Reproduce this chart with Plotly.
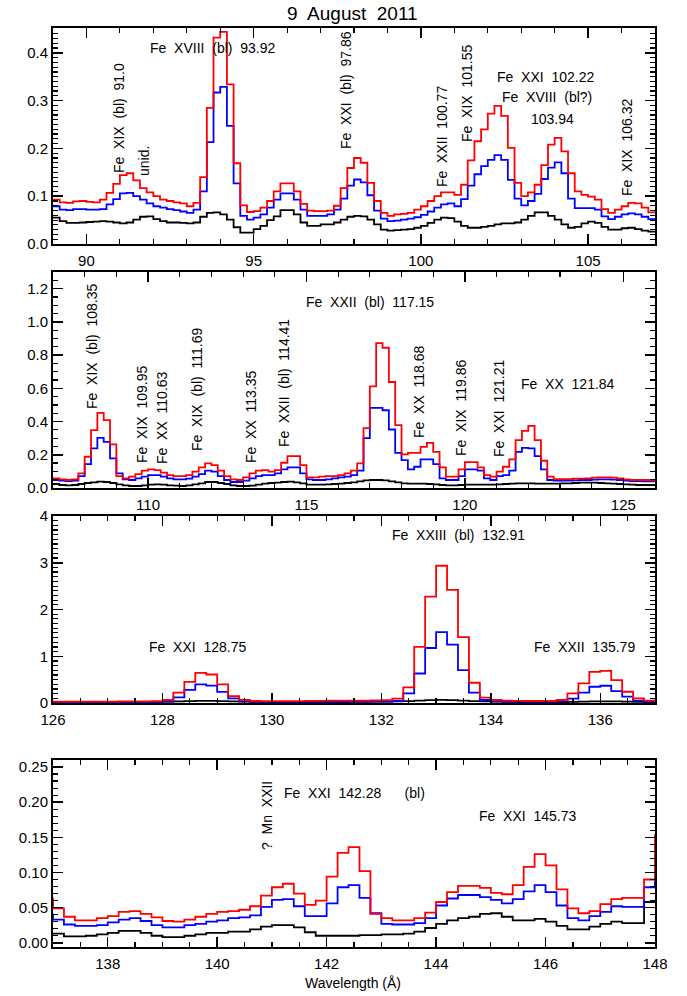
import plotly.graph_objects as go

# ---------------- data (bin width 0.2 A) ----------------
STEP = 0.2

start1 = 89.1
red1 = [0.093, 0.087, 0.086, 0.089, 0.090, 0.088, 0.087, 0.093, 0.107, 0.126,
        0.144, 0.148, 0.133, 0.117, 0.108, 0.100, 0.093, 0.090, 0.087, 0.085,
        0.079, 0.086, 0.140, 0.285, 0.432, 0.444, 0.334, 0.169, 0.081, 0.067,
        0.069, 0.076, 0.090, 0.110, 0.127, 0.127, 0.110, 0.084, 0.070, 0.069,
        0.069, 0.070, 0.080, 0.117, 0.159, 0.180, 0.170, 0.128, 0.090, 0.065,
        0.059, 0.062, 0.063, 0.065, 0.072, 0.079, 0.090, 0.100, 0.108, 0.108,
        0.103, 0.124, 0.175, 0.215, 0.240, 0.273, 0.289, 0.268, 0.201, 0.128,
        0.100, 0.108, 0.124, 0.165, 0.208, 0.222, 0.194, 0.148, 0.110, 0.103,
        0.099, 0.093, 0.073, 0.065, 0.072, 0.079, 0.086, 0.085, 0.076, 0.066]
blue1 = [0.079, 0.072, 0.071, 0.073, 0.073, 0.072, 0.072, 0.073, 0.083, 0.094,
         0.106, 0.107, 0.100, 0.093, 0.085, 0.079, 0.076, 0.073, 0.071, 0.068,
         0.065, 0.072, 0.110, 0.213, 0.317, 0.329, 0.247, 0.127, 0.059, 0.051,
         0.055, 0.062, 0.076, 0.093, 0.106, 0.106, 0.093, 0.072, 0.059, 0.059,
         0.059, 0.062, 0.072, 0.095, 0.122, 0.135, 0.129, 0.102, 0.070, 0.053,
         0.048, 0.049, 0.051, 0.053, 0.056, 0.061, 0.068, 0.076, 0.083, 0.085,
         0.079, 0.094, 0.122, 0.146, 0.163, 0.176, 0.186, 0.176, 0.134, 0.095,
         0.081, 0.090, 0.105, 0.136, 0.160, 0.171, 0.148, 0.095, 0.075, 0.075,
         0.075, 0.072, 0.058, 0.052, 0.057, 0.062, 0.064, 0.062, 0.057, 0.052]
black1 = [0.055, 0.048, 0.044, 0.044, 0.045, 0.046, 0.047, 0.048, 0.047, 0.045,
          0.043, 0.045, 0.051, 0.057, 0.058, 0.052, 0.048, 0.045, 0.045, 0.044,
          0.043, 0.045, 0.057, 0.065, 0.066, 0.062, 0.051, 0.035, 0.024, 0.024,
          0.031, 0.038, 0.050, 0.058, 0.071, 0.071, 0.062, 0.045, 0.038, 0.038,
          0.041, 0.041, 0.045, 0.051, 0.057, 0.059, 0.058, 0.051, 0.041, 0.030,
          0.028, 0.029, 0.030, 0.031, 0.034, 0.038, 0.044, 0.051, 0.055, 0.054,
          0.047, 0.038, 0.034, 0.034, 0.036, 0.038, 0.041, 0.043, 0.043, 0.045,
          0.051, 0.059, 0.066, 0.066, 0.059, 0.051, 0.041, 0.034, 0.036, 0.043,
          0.047, 0.044, 0.036, 0.030, 0.030, 0.033, 0.034, 0.031, 0.028, 0.026]

start2 = 107.1
red2 = [0.058, 0.052, 0.048, 0.052, 0.088, 0.188, 0.348, 0.452, 0.408, 0.262,
        0.072, 0.058, 0.068, 0.084, 0.104, 0.112, 0.108, 0.092, 0.078, 0.072,
        0.072, 0.078, 0.098, 0.124, 0.148, 0.138, 0.104, 0.072, 0.052, 0.048,
        0.064, 0.088, 0.104, 0.108, 0.098, 0.108, 0.152, 0.192, 0.192, 0.138,
        0.064, 0.064, 0.068, 0.072, 0.072, 0.078, 0.088, 0.104, 0.148, 0.360,
        0.612, 0.872, 0.844, 0.638, 0.378, 0.202, 0.212, 0.212, 0.248, 0.272,
        0.218, 0.124, 0.068, 0.068, 0.112, 0.156, 0.156, 0.124, 0.078, 0.068,
        0.098, 0.128, 0.172, 0.288, 0.344, 0.374, 0.288, 0.164, 0.068, 0.054,
        0.054, 0.054, 0.056, 0.056, 0.058, 0.062, 0.064, 0.064, 0.062, 0.058,
        0.052, 0.048, 0.048, 0.048, 0.046]
blue2 = [0.048, 0.044, 0.042, 0.044, 0.072, 0.144, 0.238, 0.302, 0.278, 0.178,
         0.088, 0.052, 0.048, 0.058, 0.068, 0.078, 0.078, 0.068, 0.058, 0.052,
         0.052, 0.056, 0.068, 0.084, 0.104, 0.098, 0.072, 0.048, 0.036, 0.036,
         0.044, 0.058, 0.072, 0.078, 0.078, 0.088, 0.112, 0.124, 0.124, 0.088,
         0.052, 0.048, 0.048, 0.052, 0.058, 0.064, 0.068, 0.078, 0.104, 0.300,
         0.482, 0.482, 0.468, 0.352, 0.212, 0.168, 0.112, 0.128, 0.172, 0.172,
         0.144, 0.058, 0.048, 0.048, 0.072, 0.112, 0.112, 0.104, 0.058, 0.048,
         0.072, 0.078, 0.104, 0.218, 0.242, 0.238, 0.192, 0.112, 0.048, 0.044,
         0.044, 0.044, 0.046, 0.048, 0.048, 0.050, 0.052, 0.052, 0.050, 0.048,
         0.044, 0.042, 0.042, 0.040, 0.040]
black2 = [0.024, 0.018, 0.016, 0.018, 0.024, 0.030, 0.034, 0.038, 0.036, 0.030,
          0.022, 0.016, 0.012, 0.012, 0.016, 0.020, 0.022, 0.020, 0.016, 0.014,
          0.012, 0.016, 0.022, 0.028, 0.036, 0.036, 0.030, 0.024, 0.016, 0.012,
          0.012, 0.014, 0.020, 0.026, 0.030, 0.032, 0.036, 0.038, 0.034, 0.028,
          0.020, 0.020, 0.020, 0.022, 0.024, 0.026, 0.030, 0.034, 0.040, 0.046,
          0.048, 0.048, 0.046, 0.040, 0.034, 0.028, 0.026, 0.026, 0.026, 0.024,
          0.022, 0.018, 0.016, 0.016, 0.018, 0.020, 0.020, 0.020, 0.020, 0.020,
          0.022, 0.024, 0.026, 0.028, 0.028, 0.028, 0.026, 0.026, 0.026, 0.026,
          0.028, 0.028, 0.030, 0.032, 0.032, 0.032, 0.030, 0.028, 0.026, 0.024,
          0.022, 0.020, 0.018, 0.018, 0.018]

start3 = 126.1
red3 = [0.030, 0.030, 0.030, 0.030, 0.030, 0.030, 0.035, 0.035, 0.035, 0.040,
        0.064, 0.220, 0.454, 0.645, 0.610, 0.397, 0.149, 0.064, 0.043, 0.040,
        0.040, 0.040, 0.040, 0.045, 0.045, 0.050, 0.050, 0.050, 0.050, 0.055,
        0.060, 0.092, 0.333, 1.199, 2.277, 2.936, 2.418, 1.411, 0.433, 0.113,
        0.064, 0.050, 0.045, 0.043, 0.043, 0.043, 0.064, 0.206, 0.418, 0.667,
        0.688, 0.489, 0.241, 0.099, 0.050]
blue3 = [0.020, 0.020, 0.020, 0.020, 0.020, 0.020, 0.020, 0.020, 0.020, 0.022,
         0.030, 0.120, 0.280, 0.400, 0.370, 0.240, 0.100, 0.035, 0.025, 0.025,
         0.025, 0.025, 0.025, 0.025, 0.025, 0.025, 0.028, 0.028, 0.028, 0.030,
         0.030, 0.043, 0.206, 0.631, 1.177, 1.518, 1.248, 0.702, 0.220, 0.064,
         0.035, 0.030, 0.025, 0.025, 0.025, 0.025, 0.035, 0.092, 0.220, 0.348,
         0.369, 0.255, 0.135, 0.050, 0.030]
black3 = [0.020, 0.020, 0.020, 0.020, 0.020, 0.020, 0.020, 0.020, 0.025, 0.025,
          0.030, 0.035, 0.040, 0.045, 0.045, 0.040, 0.035, 0.030, 0.025, 0.025,
          0.020, 0.020, 0.020, 0.020, 0.020, 0.020, 0.020, 0.025, 0.025, 0.030,
          0.030, 0.035, 0.040, 0.050, 0.060, 0.065, 0.060, 0.050, 0.040, 0.035,
          0.030, 0.025, 0.020, 0.020, 0.020, 0.020, 0.020, 0.025, 0.030, 0.035,
          0.035, 0.035, 0.030, 0.025, 0.020]

start4 = 136.9
red4 = [0.063, 0.049, 0.037, 0.032, 0.032, 0.035, 0.038, 0.044, 0.045, 0.041,
        0.036, 0.031, 0.030, 0.033, 0.037, 0.041, 0.044, 0.045, 0.047, 0.052,
        0.067, 0.079, 0.084, 0.070, 0.054, 0.060, 0.094, 0.128, 0.136, 0.102,
        0.041, 0.035, 0.032, 0.032, 0.035, 0.043, 0.058, 0.072, 0.081, 0.081,
        0.078, 0.071, 0.069, 0.082, 0.108, 0.126, 0.110, 0.076, 0.049, 0.042,
        0.045, 0.055, 0.062, 0.064, 0.064, 0.090, 0.153]
blue4 = [0.040, 0.033, 0.026, 0.024, 0.024, 0.025, 0.029, 0.033, 0.035, 0.031,
         0.025, 0.022, 0.022, 0.025, 0.027, 0.030, 0.032, 0.035, 0.036, 0.039,
         0.051, 0.061, 0.062, 0.052, 0.038, 0.038, 0.056, 0.079, 0.082, 0.064,
         0.042, 0.027, 0.026, 0.026, 0.028, 0.035, 0.053, 0.063, 0.068, 0.068,
         0.065, 0.061, 0.056, 0.062, 0.073, 0.082, 0.072, 0.053, 0.035, 0.032,
         0.038, 0.044, 0.052, 0.051, 0.051, 0.079, 0.091]
black4 = [0.013, 0.013, 0.009, 0.009, 0.010, 0.012, 0.014, 0.017, 0.017, 0.014,
          0.010, 0.008, 0.008, 0.010, 0.012, 0.014, 0.014, 0.016, 0.016, 0.019,
          0.023, 0.025, 0.025, 0.022, 0.015, 0.010, 0.010, 0.010, 0.010, 0.011,
          0.011, 0.012, 0.012, 0.013, 0.016, 0.021, 0.027, 0.032, 0.035, 0.037,
          0.041, 0.042, 0.037, 0.032, 0.032, 0.034, 0.030, 0.024, 0.019, 0.019,
          0.023, 0.027, 0.030, 0.028, 0.028, 0.058, 0.060]

# line identifications: (text, x_px, y_px, rotated)
labels = [
    ("Fe XVIII (bl) 93.92", 212, 48, False),
    ("Fe XIX (bl) 91.0", 119, 118, True),
    ("unid.", 144, 161, True),
    ("Fe XXI (bl) 97.86", 346, 90, True),
    ("Fe XXII 100.77", 442, 137, True),
    ("Fe XIX 101.55", 467, 94, True),
    ("Fe XXI 102.22", 545, 77, False),
    ("Fe XVIII (bl?)", 547, 97, False),
    ("103.94", 552, 119, False),
    ("Fe XIX 106.32", 627, 148, True),
    ("Fe XIX (bl) 108.35", 92, 347, True),
    ("Fe XIX 109.95", 142, 415, True),
    ("Fe XX 110.63", 162, 418, True),
    ("Fe XIX (bl) 111.69", 197, 390, True),
    ("Fe XX 113.35", 251, 417, True),
    ("Fe XXII (bl) 114.41", 284, 383, True),
    ("Fe XXII (bl) 117.15", 370, 302, False),
    ("Fe XX 118.68", 419, 392, True),
    ("Fe XIX 119.86", 461, 408, True),
    ("Fe XXI 121.21", 499, 408, True),
    ("Fe XX 121.84", 568, 384, False),
    ("Fe XXI 128.75", 197, 647, False),
    ("Fe XXIII (bl) 132.91", 458, 535, False),
    ("Fe XXII 135.79", 584, 647, False),
    ("? Mn XXII", 267, 816, True),
    ("Fe XXI 142.28   (bl)", 354, 793, False),
    ("Fe XXI 145.73", 527, 816, False),
]

# ---------------- figure ----------------
W, H = 687, 996
FONT = "Liberation Sans, Arial, sans-serif"
X0, X1 = 53, 655


def paper(x, y):
    return x / W, 1 - y / H


panels = [
    dict(start=start1, red=red1, blue=blue1, black=black1, xr=[89, 107], yr=[0, 0.452],
         xd=5, xm=1, yd=0.1, ym=0.01, fmt=".1f", top=28, bot=244),
    dict(start=start2, red=red2, blue=blue2, black=black2, xr=[107, 126], yr=[0, 1.3],
         xd=5, xm=1, yd=0.2, ym=0.05, fmt=".1f", top=272, bot=488),
    dict(start=start3, red=red3, blue=blue3, black=black3, xr=[126, 137], yr=[0, 4.0],
         xd=2, xm=0.5, yd=1, ym=0.1, fmt="d", top=516, bot=703),
    dict(start=start4, red=red4, blue=blue4, black=black4, xr=[137, 148], yr=[-0.006, 0.26],
         xd=2, xm=0.5, yd=0.05, ym=0.01, fmt=".2f", top=760, bot=947),
]

fig = go.Figure()
layout = dict(width=W, height=H, autosize=False,
              margin=dict(l=0, r=0, t=0, b=0, pad=0, autoexpand=False),
              plot_bgcolor="white", paper_bgcolor="white", showlegend=False,
              font=dict(family=FONT, color="black"))

for i, p in enumerate(panels, start=1):
    xa = "x" if i == 1 else f"x{i}"
    ya = "y" if i == 1 else f"y{i}"
    for key, col in (("black", "#000000"), ("blue", "#0000ff"), ("red", "#ff0000")):
        vals = p[key]
        centers = [p["start"] + STEP * k for k in range(len(vals))]
        edges = [round(c - STEP / 2, 3) for c in centers] + [round(centers[-1] + STEP / 2, 3)]
        fig.add_trace(go.Scatter(x=edges, y=vals + [vals[-1]], mode="lines",
                                 line=dict(color=col, width=1.8, shape="hv"),
                                 xaxis=xa, yaxis=ya, hoverinfo="skip", cliponaxis=True))
    common = dict(showline=True, linecolor="black", linewidth=2, mirror="ticks",
                  ticks="inside", ticklen=10, tickwidth=1.5, tickcolor="black",
                  showgrid=False, zeroline=False, automargin=False,
                  tickfont=dict(family=FONT, size=15, color="black"))
    xkey = "xaxis" if i == 1 else f"xaxis{i}"
    ykey = "yaxis" if i == 1 else f"yaxis{i}"
    layout[xkey] = dict(common, domain=[X0 / W, X1 / W], range=p["xr"], anchor=ya,
                        tick0=0, dtick=p["xd"], ticklabelstandoff=2,
                        minor=dict(ticks="inside", ticklen=5, tickwidth=1.2,
                                   tickcolor="black", dtick=p["xm"], tick0=0, showgrid=False))
    layout[ykey] = dict(common, domain=[1 - p["bot"] / H, 1 - p["top"] / H], range=p["yr"],
                        anchor=xa, tick0=0, dtick=p["yd"], tickformat=p["fmt"],
                        minor=dict(ticks="inside", ticklen=5, tickwidth=1.2,
                                   tickcolor="black", dtick=p["ym"], tick0=0, showgrid=False))

annotations = []
for text, x, y, rot in labels:
    ax, ay = paper(x, y)
    annotations.append(dict(text=text.replace(" ", "\u00a0\u00a0"), x=ax, y=ay,
                            xref="paper", yref="paper",
                            showarrow=False, textangle=-90 if rot else 0,
                            xanchor="center", yanchor="middle",
                            font=dict(family=FONT, size=14, color="black")))

tx, ty = paper(352, 14)
annotations.append(dict(text="9\u00a0 August\u00a0 2011", x=tx, y=ty, xref="paper", yref="paper",
                        showarrow=False, xanchor="center", yanchor="middle",
                        font=dict(family=FONT, size=19, color="black")))
wx, wy = paper(353, 983)
annotations.append(dict(text="Wavelength (Å)", x=wx, y=wy, xref="paper", yref="paper",
                        showarrow=False, xanchor="center", yanchor="middle",
                        font=dict(family=FONT, size=14, color="black")))
layout["annotations"] = annotations

fig.update_layout(**layout)
fig.write_html("out.html",
               config={"displayModeBar": False, "staticPlot": True},
               post_script="document.body.style.margin='0px';document.body.style.padding='0px';")
